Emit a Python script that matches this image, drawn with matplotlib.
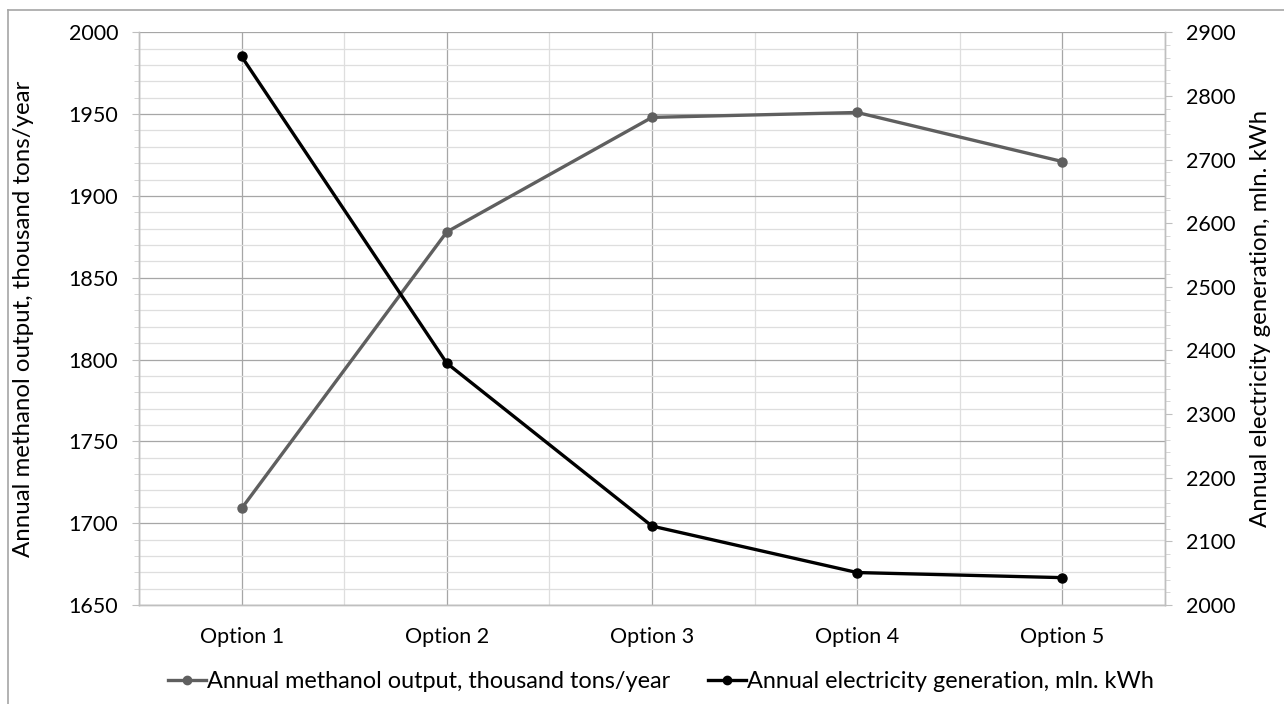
import matplotlib
matplotlib.use("Agg")
import matplotlib.pyplot as plt
from matplotlib.ticker import MultipleLocator, FixedLocator
from matplotlib.lines import Line2D

categories = ["Option 1", "Option 2", "Option 3", "Option 4", "Option 5"]
methanol = [1709, 1878, 1948, 1951, 1921]
electricity = [2862, 2380, 2124, 2051, 2043]
methanol_label = "Annual methanol output, thousand tons/year"
electricity_label = "Annual electricity generation, mln. kWh"

plt.rcParams['font.family'] = ['Lato', 'DejaVu Sans']
FS = 15.5
FS_LEG = 16.9
FS_LAB = 17.3

fig = plt.figure(figsize=(12.84, 7.04), dpi=100)
ax = fig.add_axes([139/1284, 1 - 605/704, (1165-139)/1284, (605-32.3)/704])
ax2 = ax.twinx()

x = [i + 0.5 for i in range(len(categories))]

ax.set_xlim(0, len(categories))
ax.set_ylim(1650, 2000)
ax2.set_ylim(2000, 2900)

# grid
ax.yaxis.set_major_locator(MultipleLocator(50))
ax.yaxis.set_minor_locator(MultipleLocator(10))
ax.xaxis.set_major_locator(FixedLocator(x))
ax.xaxis.set_minor_locator(FixedLocator(list(range(len(categories) + 1))))
ax.set_xticklabels(categories)
ax.grid(which='major', color='#a6a6a6', linewidth=0.9)
ax.grid(which='minor', color='#dedede', linewidth=0.9)
ax.set_axisbelow(True)

ax2.yaxis.set_major_locator(MultipleLocator(100))
ax2.yaxis.set_minor_locator(MultipleLocator(20))

for a in (ax, ax2):
    for s in a.spines.values():
        s.set_color('#bfbfbf')
        s.set_linewidth(1.0)
ax.spines['top'].set_visible(False)
ax2.spines['top'].set_visible(False)

ax.tick_params(axis='y', which='major', length=5, color='#bfbfbf', labelsize=FS, pad=10)
ax.tick_params(axis='y', which='minor', length=3.5, color='#d0d0d0')
ax.tick_params(axis='x', which='both', length=0, labelsize=FS, pad=16)
ax2.tick_params(axis='y', which='major', length=5, color='#bfbfbf', labelsize=FS, pad=10)
ax2.tick_params(axis='y', which='minor', length=3.5, color='#d0d0d0')

ax.set_ylabel(methanol_label, fontsize=FS_LAB)
ax2.set_ylabel(electricity_label, fontsize=FS_LAB)
ax.yaxis.set_label_coords((34 - 139) / 1026, 0.5)
ax2.yaxis.set_label_coords((1250 - 139) / 1026, 0.5)

ax.plot(x, methanol, color='#5f5f5f', linewidth=2.4, marker='o', markersize=6.5, zorder=3, clip_on=False)
ax2.plot(x, electricity, color='#000000', linewidth=2.4, marker='o', markersize=6.5, zorder=3, clip_on=False)

handles = [
    Line2D([], [], color='#5f5f5f', linewidth=2.4, marker='o', markersize=6),
    Line2D([], [], color='#000000', linewidth=2.4, marker='o', markersize=6),
]
fig.legend(handles, [methanol_label, electricity_label], loc='center',
           bbox_to_anchor=(661/1284, 1 - 682/704), ncol=2, frameon=False,
           fontsize=FS_LEG, handlelength=1.6, handletextpad=0.05, columnspacing=1.6,
           borderpad=0, borderaxespad=0)

# chart border (top and left visible)
fig.add_artist(Line2D([8/1284, 1.0], [1 - 9.5/704, 1 - 9.5/704], color='#a6a6a6', linewidth=1.2))
fig.add_artist(Line2D([8/1284, 8/1284], [0, 1 - 9.5/704], color='#a6a6a6', linewidth=1.2))

fig.savefig("out.png", dpi=100)
